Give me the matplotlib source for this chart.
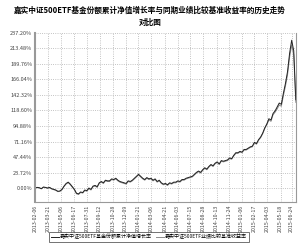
import numpy as np
import pandas as pd
import matplotlib
matplotlib.use("Agg")
import matplotlib.pyplot as plt

plt.rcParams['font.family'] = ['Noto Sans CJK SC', 'DejaVu Sans']

# 周度数据：份额累计净值增长率（%）
fund = [0, 1, 0.5, -1, 1.5, 1, 0, 1, -1, -2, -3, -5, -4.5, -2, 3, 7, 9, 6, 2, -2,
        -8, -9, -6, -7, -3, -4, 0, -2, 3, 4, 2, 8, 10, 8, 12, 11, 11, 14, 13, 15,
        12, 10, 9, 8, 7, 11, 10, 12, 15, 18, 21, 18, 15, 13, 16, 14, 15, 12, 14, 10,
        12, 8, 6, 7, 5, 8, 7, 9, 9, 11, 10, 13, 13, 15, 16, 17, 18, 21, 24, 26,
        24, 28, 31, 29, 33, 36, 34, 38, 40, 37, 42, 41, 42, 43, 46, 45, 50, 54, 54, 56,
        55, 59, 59, 61, 63, 64, 70, 68, 74, 78, 84, 92, 98, 106, 104, 114, 118, 124, 130, 128,
        145, 160, 178, 206, 226, 210, 135]

# 业绩比较基准收益率（%）
bench = [0, 0.8, 0.3, -1.2, 1.2, 0.8, -0.3, 0.6, -1.4, -2.5, -3.5, -5.5, -5, -2.6, 2.4, 6.2, 8.2, 5.2, 1.2, -2.8,
         -8.8, -9.8, -6.8, -7.8, -3.9, -4.9, -1, -3, 2, 3, 1, 7, 9, 7, 11, 10, 10, 13, 12, 14,
         11, 9, 8, 7, 6, 10, 9, 11, 14, 17, 20, 17, 14, 12, 15, 13, 14, 11, 13, 9,
         11, 7, 5, 6, 4, 7, 6, 8, 8, 10, 9, 12, 12, 14, 15, 16, 17, 20, 23, 25,
         23, 27, 30, 28, 32, 35, 33, 37, 39, 36, 41, 40, 41, 42, 45, 44, 49, 53, 53, 55,
         54, 58, 58, 60, 62, 63, 69, 67, 73, 77, 83, 91, 97, 104, 102, 112, 116, 121, 127, 125,
         141, 156, 173, 200, 219, 204, 131]

dates = pd.date_range('2013-02-06', periods=len(fund), freq='7D')

tick_labels = ['2013-02-06', '2013-03-21', '2013-05-06', '2013-06-17', '2013-07-31',
               '2013-09-12', '2013-10-28', '2013-12-09', '2014-01-21', '2014-03-06',
               '2014-04-21', '2014-06-03', '2014-07-15', '2014-08-28', '2014-10-13',
               '2014-11-24', '2015-01-06', '2015-02-17', '2015-04-03', '2015-05-18',
               '2015-06-24']
y_ticks = [0.00, 23.72, 47.44, 71.16, 94.88, 118.60, 142.32, 166.04, 189.76, 213.48, 237.20]

fig = plt.figure(figsize=(3.0, 2.44), dpi=100)
ax = fig.add_axes([0.117, 0.172, 0.87, 0.693])

ax.plot(dates, bench, color='#8c8c8c', lw=0.7, label='嘉实中证500ETF业绩比较基准收益率')
ax.plot(dates, fund, color='#222222', lw=0.7, label='嘉实中证500ETF基金份额累计净值增长率')

ax.set_ylim(-21.4, 237.2)
ax.set_xlim(dates[0], dates[-1] + pd.Timedelta(days=1))
ax.set_yticks(y_ticks)
ax.set_yticklabels(['%.2f%%' % v for v in y_ticks], fontsize=4, color='#444444')
tick_dates = pd.to_datetime(tick_labels)
ax.set_xticks(tick_dates)
ax.set_xticklabels(tick_labels, rotation=90, fontsize=3.8, color='#444444')
ax.tick_params(length=0, pad=2)

ax.grid(True, color='#b0b0b0', ls=':', lw=0.6)
for s in ['left', 'right', 'bottom', 'top']:
    ax.spines[s].set_color('#999999')
ax.spines['left'].set_linewidth(1.5)
ax.spines['top'].set_visible(False)

fig.text(0.5, 0.975, '嘉实中证500ETF基金份额累计净值增长率与同期业绩比较基准收益率的历史走势\n对比图',
         ha='center', va='top', fontsize=5.5, fontweight='bold', linespacing=1.35)

h, l = ax.get_legend_handles_labels()
leg = fig.legend(h[::-1], l[::-1], loc='lower left', bbox_to_anchor=(0.155, 0.0), ncol=2,
                 fontsize=3.6, frameon=True, fancybox=False, handlelength=1.5,
                 handletextpad=0.3, columnspacing=0.8, borderpad=0.4)
leg.get_frame().set_edgecolor('#333333')
leg.get_frame().set_linewidth(0.6)

fig.savefig('out.png', dpi=100)
